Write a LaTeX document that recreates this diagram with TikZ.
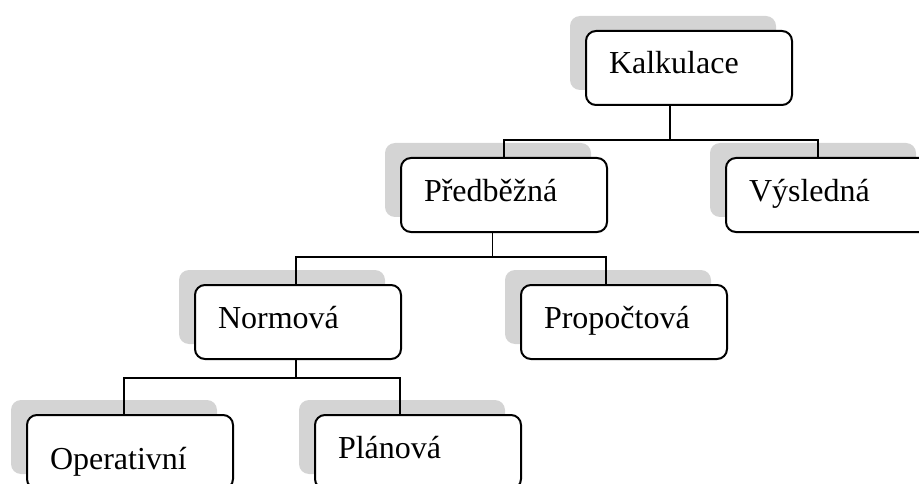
\documentclass[tikz,border=0pt]{standalone}
\usepackage{fontspec}
\setmainfont{Liberation Serif}
\usetikzlibrary{shadows}
\definecolor{shadowgray}{RGB}{212,212,212}
\tikzset{
  orgbox/.style={draw=black, line width=2pt, fill=white, rounded corners=10pt,
    minimum width=206pt, minimum height=74pt, anchor=north west,
    text width=160pt, align=left, inner xsep=23pt, inner ysep=0pt,
    text height=21pt, text depth=9pt,
    font=\fontsize{32}{38}\selectfont,
    general shadow={fill=shadowgray, draw=none, shadow xshift=-16pt, shadow yshift=15pt}},
  lowtext/.style={text height=40pt, text depth=6pt},
  conn/.style={draw=black, line width=1.7pt}
}
\begin{document}
\begin{tikzpicture}[x=1pt,y=-1pt]
\useasboundingbox (0,0) rectangle (919,484);
\clip (0,0) rectangle (919,484);
\node[orgbox] (k) at (585,30) {Kalkulace};
\node[orgbox] (p) at (400,157) {Předběžná};
\node[orgbox] (v) at (725,157) {Výsledná};
\node[orgbox] (n) at (194,284) {Normová};
\node[orgbox] (r) at (520,284) {Propočtová};
\node[orgbox,lowtext] (o) at (26,414) {Operativní};
\node[orgbox] (l) at (314,414) {Plánová};
% level 1
\draw[conn] ([xshift=-19pt]k.south) -- ++(0,34) coordinate (j1);
\draw[conn] (p.north) |- (j1) -| ([xshift=-11pt]v.north);
% level 2
\draw[conn] ([xshift=-11.5pt]p.south) -- ++(0,24) coordinate (j2);
\draw[conn] ([xshift=-2pt]n.north) |- (j2) -| ([xshift=-18pt]r.north);
% level 3
\draw[conn] ([xshift=-2pt]n.south) -- ++(0,18) coordinate (j3);
\draw[conn] ([xshift=-6pt]o.north) |- (j3) -| ([xshift=-18pt]l.north);
\end{tikzpicture}
\end{document}
